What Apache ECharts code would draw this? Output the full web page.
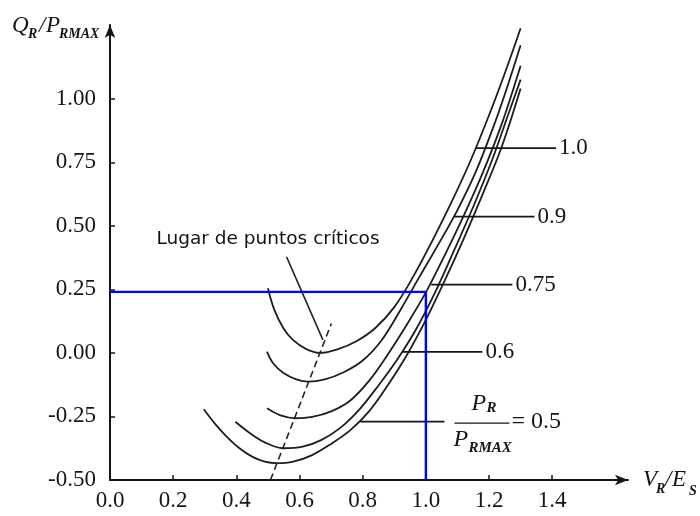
<!DOCTYPE html>
<html>
<head>
<meta charset="utf-8">
<script src="https://cdn.jsdelivr.net/npm/echarts@6/dist/echarts.min.js"></script>
<style>
  html, body { margin: 0; padding: 0; background: #fff; }
  #chart { width: 700px; height: 516px; }
</style>
</head>
<body>
<div id="chart"></div>
<script>
// Reactive power Q_R/P_RMAX required at the receiving end versus V_R/E_S,
// one curve per load ratio P_R/P_RMAX.
const powerRatioLabels = ['1.0', '0.9', '0.75', '0.6', '0.5'];

const curveP100 = [[0.500,0.254],[0.520,0.170],[0.550,0.095],[0.580,0.050],[0.620,0.016],[0.664,0.000],[0.720,0.014],[0.780,0.046],[0.840,0.098],[0.900,0.180],[0.960,0.300],[1.020,0.440],[1.080,0.590],[1.140,0.752],[1.200,0.935],[1.250,1.100],[1.300,1.277]];
const curveP90 = [[0.497,0.005],[0.516,-0.040],[0.548,-0.078],[0.590,-0.104],[0.627,-0.113],[0.680,-0.104],[0.740,-0.076],[0.800,-0.030],[0.860,0.050],[0.920,0.170],[0.980,0.300],[1.040,0.428],[1.100,0.562],[1.160,0.718],[1.220,0.910],[1.260,1.055],[1.300,1.210]];
const curveP75 = [[0.497,-0.218],[0.540,-0.246],[0.585,-0.257],[0.640,-0.252],[0.700,-0.230],[0.760,-0.188],[0.820,-0.110],[0.880,-0.005],[0.940,0.112],[1.000,0.238],[1.060,0.385],[1.120,0.540],[1.180,0.708],[1.240,0.900],[1.300,1.130]];
const curveP60 = [[0.397,-0.271],[0.440,-0.313],[0.490,-0.352],[0.548,-0.375],[0.610,-0.369],[0.670,-0.342],[0.730,-0.294],[0.790,-0.222],[0.850,-0.128],[0.910,-0.025],[0.970,0.095],[1.030,0.240],[1.090,0.405],[1.150,0.575],[1.210,0.760],[1.260,0.935],[1.300,1.075]];
const curveP50 = [[0.297,-0.222],[0.330,-0.275],[0.370,-0.330],[0.410,-0.375],[0.450,-0.408],[0.490,-0.428],[0.527,-0.434],[0.580,-0.428],[0.640,-0.402],[0.700,-0.358],[0.760,-0.305],[0.820,-0.230],[0.880,-0.126],[0.940,-0.008],[1.000,0.130],[1.060,0.285],[1.120,0.450],[1.180,0.625],[1.240,0.810],[1.300,1.040]];

// Leader lines from each curve to its P_R/P_RMAX label
const leaderQ      = [0.806, 0.536, 0.269, 0.004, -0.270];
const leaderStartV = [1.159, 1.088, 1.017, 0.925, 0.793];
const leaderEndV   = [1.412, 1.344, 1.274, 1.179, 1.059];

// Locus of critical points (dashed) and the pointer to its caption
const criticalLocus  = [[0.508, -0.500], [0.701, 0.116]];
const criticalPointer = [[0.559, 0.378], [0.674, 0.051]];
const criticalCaption = 'Lugar de puntos críticos';

// Operating point marked in blue
const operatingV = 1.0;
const operatingQ = 0.24;

const xTicks = [0, 0.2, 0.4, 0.6, 0.8, 1.0, 1.2, 1.4];
const yTicks = [-0.5, -0.25, 0, 0.25, 0.5, 0.75, 1.0];

const INK = '#151515';
const SERIF = '"Liberation Serif", "Times New Roman", serif';

const chart = echarts.init(document.getElementById('chart'), null, { renderer: 'canvas' });

const curves = [curveP100, curveP90, curveP75, curveP60, curveP50];
const series = [];

curves.forEach((pts, i) => {
  series.push({
    name: 'P' + powerRatioLabels[i],
    type: 'line',
    data: pts,
    smooth: 0.35,
    showSymbol: false,
    silent: true,
    lineStyle: { color: '#1e1e1e', width: 1.8 },
    z: 3
  });
});

leaderQ.forEach((q, i) => {
  series.push({
    type: 'line',
    data: [[leaderStartV[i], q], [leaderEndV[i], q]],
    showSymbol: false,
    silent: true,
    lineStyle: { color: INK, width: 1.8 },
    endLabel: {
      show: i < 4, formatter: powerRatioLabels[i], distance: 3,
      fontFamily: SERIF, fontSize: 23, color: INK
    },
    z: 4
  });
});

series.push({
  type: 'line',
  data: criticalLocus,
  showSymbol: false,
  silent: true,
  lineStyle: { color: '#222', width: 1.6, type: [7, 4] },
  z: 4
});
series.push({
  type: 'line',
  data: criticalPointer,
  showSymbol: false,
  silent: true,
  lineStyle: { color: '#222', width: 1.6 },
  z: 4
});
series.push({
  type: 'line',
  data: [[0, operatingQ], [operatingV, operatingQ], [operatingV, -0.5]],
  showSymbol: false,
  silent: true,
  lineStyle: { color: '#0000ff', width: 2.4 },
  z: 5
});

chart.setOption({
  animation: false,
  backgroundColor: '#fff',
  grid: { left: 110, right: 72, top: 25, bottom: 36 },
  xAxis: {
    type: 'value',
    min: 0, max: 1.64, interval: 0.2,
    axisLine: { show: true, onZero: false, symbol: ['none', 'arrow'], symbolSize: [8, 13],
      lineStyle: { color: INK, width: 2 } },
    axisTick: { show: true, inside: true, length: 5, customValues: xTicks,
      lineStyle: { color: INK, width: 1.5 } },
    axisLabel: { customValues: xTicks, margin: 9, fontFamily: SERIF, fontSize: 23, color: INK,
      formatter: v => (v > 1.5 ? '' : v.toFixed(1)) },
    splitLine: { show: false }
  },
  yAxis: {
    type: 'value',
    min: -0.5, max: 1.29, interval: 0.25,
    axisLine: { show: true, onZero: false, symbol: ['none', 'arrow'], symbolSize: [8, 13],
      lineStyle: { color: INK, width: 2 } },
    axisTick: { show: true, inside: true, length: 5, customValues: yTicks,
      lineStyle: { color: INK, width: 1.5 } },
    axisLabel: { customValues: yTicks, margin: 14, fontFamily: SERIF, fontSize: 23, color: INK,
      formatter: v => (v > 1.1 ? '' : v.toFixed(2)) },
    splitLine: { show: false }
  },
  series: series
});

// Text annotations anchored to data positions
const fracAnchor = chart.convertToPixel({ gridIndex: 0 }, [leaderEndV[4], leaderQ[4]]);
const ptrTop = chart.convertToPixel({ gridIndex: 0 }, criticalPointer[0]);

function txt(text, x, y, font) {
  return {
    type: 'text', x: x, y: y, silent: true, z: 10,
    style: Object.assign({ text: text, fill: INK, verticalAlign: 'middle', align: 'left' }, font)
  };
}
const italic = size => ({ font: 'italic ' + size + 'px ' + SERIF });
const subFont = size => ({ font: 'italic bold ' + size + 'px ' + SERIF });

const fx = fracAnchor[0], fy = fracAnchor[1];

chart.setOption({
  graphic: [
    // y-axis title Q_R / P_RMAX
    txt('Q', 12, 26, italic(23)),
    txt('R', 28, 34, subFont(14)),
    txt('/', 39, 26, italic(23)),
    txt('P', 46, 26, italic(23)),
    txt('RMAX', 59, 34, subFont(14)),
    // x-axis title V_R / E_S
    txt('V', 643, 480, italic(23)),
    txt('R', 656, 489, subFont(14)),
    txt('/', 665, 480, italic(23)),
    txt('E', 672, 480, italic(23)),
    txt('S', 689, 491, subFont(14)),
    // caption for the critical-point locus
    txt(criticalCaption, ptrTop[0] - 130, ptrTop[1] - 18,
      { font: '18.5px "DejaVu Sans", Verdana, sans-serif', fill: '#111' }),
    // P_R / P_RMAX = 0.5 fraction label
    txt('P', fx + 27, fy - 18, italic(24)),
    txt('R', fx + 42, fy - 13, subFont(15)),
    {
      type: 'line', silent: true, z: 10,
      shape: { x1: fx + 10, y1: fy + 1.5, x2: fx + 65, y2: fy + 1.5 },
      style: { stroke: INK, lineWidth: 1.3 }
    },
    txt('P', fx + 9, fy + 18.5, italic(24)),
    txt('RMAX', fx + 24, fy + 27, subFont(15)),
    txt('= 0.5', fx + 67, fy, { font: '24px ' + SERIF })
  ]
});
</script>
</body>
</html>
